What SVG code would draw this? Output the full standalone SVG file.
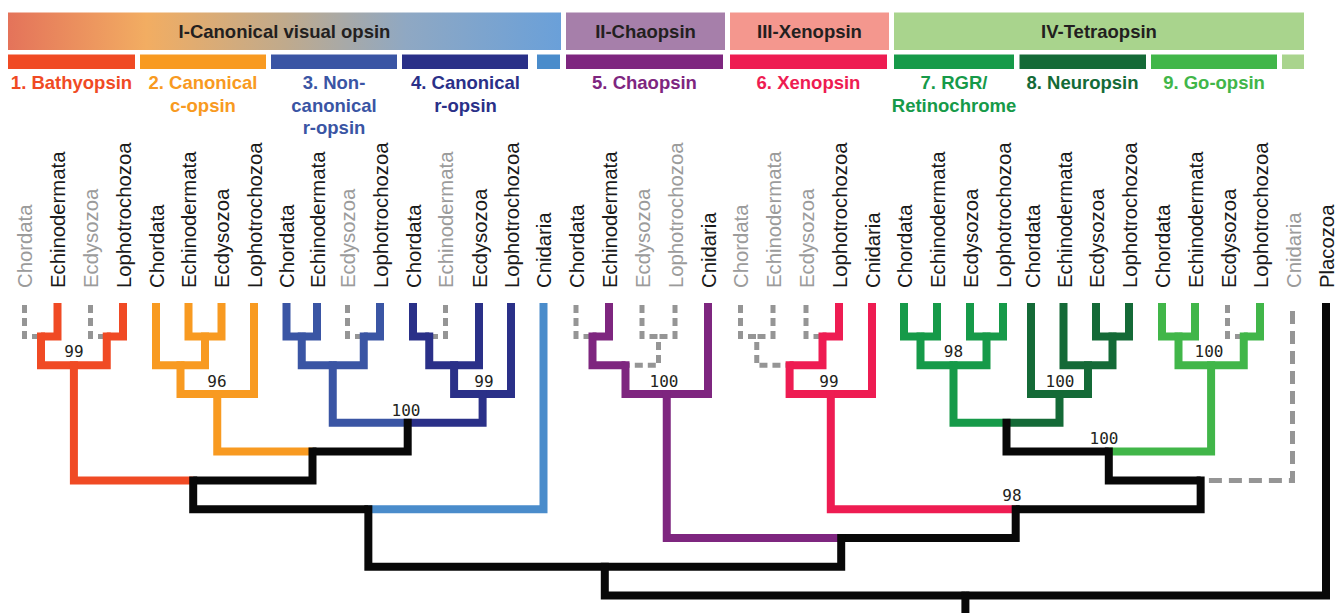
<svg xmlns="http://www.w3.org/2000/svg" width="1343" height="613" viewBox="0 0 1343 613">
<defs>
<linearGradient id="gradI" x1="8" y1="0" x2="561" y2="0" gradientUnits="userSpaceOnUse">
<stop offset="0" stop-color="#E4735A"/>
<stop offset="0.25" stop-color="#F2AD62"/>
<stop offset="0.5" stop-color="#C0AA8C"/>
<stop offset="0.72" stop-color="#8FA8C3"/>
<stop offset="1" stop-color="#6AA0D9"/>
</linearGradient>
</defs>
<style>
.hdr{font-family:"Liberation Sans",Arial,sans-serif;font-weight:bold;font-size:18.5px;fill:#231F20;text-anchor:middle}
.cl{font-family:"Liberation Sans",Arial,sans-serif;font-weight:bold;font-size:18.5px;text-anchor:middle}
.tip{font-family:"Liberation Sans",Arial,sans-serif;font-size:20.3px;fill:#1A1A1A}
.tip.g{fill:#9B9B9B}
.bs{font-family:"DejaVu Sans Mono",monospace;font-size:16px;fill:#231F20;text-anchor:middle}
.e{fill:none;stroke-width:8;stroke-linejoin:miter;stroke-linecap:butt}
.d{fill:none;stroke:#959595;stroke-width:5;stroke-dasharray:8 5;stroke-linecap:butt}
.dl{fill:none;stroke:#959595;stroke-width:5;stroke-dasharray:13 7;stroke-linecap:butt}
.k{stroke:#080808}
.red{stroke:#F04A24}
.org{stroke:#F89A21}
.blu{stroke:#3A55A4}
.nav{stroke:#2A3088}
.lbl{stroke:#4A8CCB}
.pur{stroke:#7E267F}
.pnk{stroke:#EE1C52}
.grn{stroke:#169A49}
.dgr{stroke:#146A37}
.lgr{stroke:#41B649}
</style>
<rect width="1343" height="613" fill="#FFFFFF"/>

<g id="cat-I"><rect x="8" y="12.5" width="553" height="37.5" fill="url(#gradI)"/><text class="hdr" x="284.5" y="37.5">I-Canonical visual opsin</text></g>
<g id="cat-II"><rect x="566" y="12.5" width="159" height="37.5" fill="#A67FAA"/><text class="hdr" x="645.5" y="37.5">II-Chaopsin</text></g>
<g id="cat-III"><rect x="730" y="12.5" width="159" height="37.5" fill="#F4978E"/><text class="hdr" x="809.5" y="37.5">III-Xenopsin</text></g>
<g id="cat-IV"><rect x="894" y="12.5" width="410" height="37.5" fill="#A9D48D"/><text class="hdr" x="1099" y="37.5">IV-Tetraopsin</text></g>

<g id="clade-1"><rect x="8" y="54.5" width="127" height="14.5" fill="#F04A24"/><text class="cl" x="71.5" y="89" fill="#F04A24">1. Bathyopsin</text></g>
<g id="clade-2"><rect x="140" y="54.5" width="126" height="14.5" fill="#F89A21"/><text class="cl" x="203" y="89" fill="#F89A21">2. Canonical</text><text class="cl" x="203" y="111.5" fill="#F89A21">c-opsin</text></g>
<g id="clade-3"><rect x="271" y="54.5" width="126" height="14.5" fill="#3A55A4"/><text class="cl" x="334" y="89" fill="#3A55A4">3. Non-</text><text class="cl" x="334" y="111.5" fill="#3A55A4">canonical</text><text class="cl" x="334" y="134" fill="#3A55A4">r-opsin</text></g>
<g id="clade-4"><rect x="402" y="54.5" width="126" height="14.5" fill="#2A3088"/><text class="cl" x="465.5" y="89" fill="#2A3088">4. Canonical</text><text class="cl" x="465.5" y="111.5" fill="#2A3088">r-opsin</text></g>
<g id="clade-cnid-I"><rect x="537" y="54.5" width="23" height="14.5" fill="#4A8CCB"/></g>
<g id="clade-5"><rect x="566" y="54.5" width="157" height="14.5" fill="#7E267F"/><text class="cl" x="644.5" y="89" fill="#7E267F">5. Chaopsin</text></g>
<g id="clade-6"><rect x="730" y="54.5" width="157" height="14.5" fill="#EE1C52"/><text class="cl" x="808.5" y="89" fill="#EE1C52">6. Xenopsin</text></g>
<g id="clade-7"><rect x="894" y="54.5" width="120" height="14.5" fill="#169A49"/><text class="cl" x="954" y="89" fill="#169A49">7. RGR/</text><text class="cl" x="954" y="111.5" fill="#169A49">Retinochrome</text></g>
<g id="clade-8"><rect x="1019.5" y="54.5" width="126.5" height="14.5" fill="#146A37"/><text class="cl" x="1082.5" y="89" fill="#146A37">8. Neuropsin</text></g>
<g id="clade-9"><rect x="1151" y="54.5" width="126" height="14.5" fill="#41B649"/><text class="cl" x="1214" y="89" fill="#41B649">9. Go-opsin</text></g>
<g id="clade-cnid-IV"><rect x="1282" y="54.5" width="22" height="14.5" fill="#A9D48D"/></g>

<g id="tips">
<g id="tip-0"><text class="tip g" transform="translate(32,288) rotate(-90)">Chordata</text></g>
<g id="tip-1"><text class="tip" transform="translate(65,288) rotate(-90)">Echinodermata</text></g>
<g id="tip-2"><text class="tip g" transform="translate(98,288) rotate(-90)">Ecdysozoa</text></g>
<g id="tip-3"><text class="tip" transform="translate(130.5,288) rotate(-90)">Lophotrochozoa</text></g>
<g id="tip-4"><text class="tip" transform="translate(163.5,288) rotate(-90)">Chordata</text></g>
<g id="tip-5"><text class="tip" transform="translate(196,288) rotate(-90)">Echinodermata</text></g>
<g id="tip-6"><text class="tip" transform="translate(229,288) rotate(-90)">Ecdysozoa</text></g>
<g id="tip-7"><text class="tip" transform="translate(261.5,288) rotate(-90)">Lophotrochozoa</text></g>
<g id="tip-8"><text class="tip" transform="translate(294,288) rotate(-90)">Chordata</text></g>
<g id="tip-9"><text class="tip" transform="translate(324.5,288) rotate(-90)">Echinodermata</text></g>
<g id="tip-10"><text class="tip g" transform="translate(355,288) rotate(-90)">Ecdysozoa</text></g>
<g id="tip-11"><text class="tip" transform="translate(387.5,288) rotate(-90)">Lophotrochozoa</text></g>
<g id="tip-12"><text class="tip" transform="translate(420.5,288) rotate(-90)">Chordata</text></g>
<g id="tip-13"><text class="tip g" transform="translate(453,288) rotate(-90)">Echinodermata</text></g>
<g id="tip-14"><text class="tip" transform="translate(486.5,288) rotate(-90)">Ecdysozoa</text></g>
<g id="tip-15"><text class="tip" transform="translate(518.5,288) rotate(-90)">Lophotrochozoa</text></g>
<g id="tip-16"><text class="tip" transform="translate(551,288) rotate(-90)">Cnidaria</text></g>
<g id="tip-17"><text class="tip" transform="translate(583.5,288) rotate(-90)">Chordata</text></g>
<g id="tip-18"><text class="tip" transform="translate(616.5,288) rotate(-90)">Echinodermata</text></g>
<g id="tip-19"><text class="tip g" transform="translate(649.5,288) rotate(-90)">Ecdysozoa</text></g>
<g id="tip-20"><text class="tip g" transform="translate(682.5,288) rotate(-90)">Lophotrochozoa</text></g>
<g id="tip-21"><text class="tip" transform="translate(715.5,288) rotate(-90)">Cnidaria</text></g>
<g id="tip-22"><text class="tip g" transform="translate(748,288) rotate(-90)">Chordata</text></g>
<g id="tip-23"><text class="tip g" transform="translate(780.5,288) rotate(-90)">Echinodermata</text></g>
<g id="tip-24"><text class="tip g" transform="translate(813.5,288) rotate(-90)">Ecdysozoa</text></g>
<g id="tip-25"><text class="tip" transform="translate(846.5,288) rotate(-90)">Lophotrochozoa</text></g>
<g id="tip-26"><text class="tip" transform="translate(879.5,288) rotate(-90)">Cnidaria</text></g>
<g id="tip-27"><text class="tip" transform="translate(911.5,288) rotate(-90)">Chordata</text></g>
<g id="tip-28"><text class="tip" transform="translate(944.5,288) rotate(-90)">Echinodermata</text></g>
<g id="tip-29"><text class="tip" transform="translate(977.5,288) rotate(-90)">Ecdysozoa</text></g>
<g id="tip-30"><text class="tip" transform="translate(1010.5,288) rotate(-90)">Lophotrochozoa</text></g>
<g id="tip-31"><text class="tip" transform="translate(1039.5,288) rotate(-90)">Chordata</text></g>
<g id="tip-32"><text class="tip" transform="translate(1071.5,288) rotate(-90)">Echinodermata</text></g>
<g id="tip-33"><text class="tip" transform="translate(1104,288) rotate(-90)">Ecdysozoa</text></g>
<g id="tip-34"><text class="tip" transform="translate(1136.5,288) rotate(-90)">Lophotrochozoa</text></g>
<g id="tip-35"><text class="tip" transform="translate(1170,288) rotate(-90)">Chordata</text></g>
<g id="tip-36"><text class="tip" transform="translate(1202.5,288) rotate(-90)">Echinodermata</text></g>
<g id="tip-37"><text class="tip" transform="translate(1235.5,288) rotate(-90)">Ecdysozoa</text></g>
<g id="tip-38"><text class="tip" transform="translate(1267.5,288) rotate(-90)">Lophotrochozoa</text></g>
<g id="tip-39"><text class="tip g" transform="translate(1300.5,288) rotate(-90)">Cnidaria</text></g>
<g id="tip-40"><text class="tip" transform="translate(1333.5,288) rotate(-90)">Placozoa</text></g>
</g>

<g id="connectors">
<path class="d" d="M24.5 305V336.5H41"/>
<path class="e red" d="M57.5 303V336.5H41"/>
<path class="d" d="M90.5 305V336.5H106.75"/>
<path class="e red" d="M123 303V336.5H106.75"/>
<path class="e red" d="M41 332.5V365.3H73.9"/>
<path class="e red" d="M106.75 332.5V365.3H73.9"/>
<path class="e red" d="M73.9 361.3V480.4H193.2"/>

<path class="e org" d="M188.5 303V336.5H205"/>
<path class="e org" d="M221.5 303V336.5H205"/>
<path class="e org" d="M156 303V365.3H180.5"/>
<path class="e org" d="M205 332.5V365.3H180.5"/>
<path class="e org" d="M180.5 361.3V394H217.25"/>
<path class="e org" d="M254 303V394H217.25"/>
<path class="e org" d="M217.25 390V451.6H312.5"/>

<path class="e blu" d="M286.5 303V336.5H301.75"/>
<path class="e blu" d="M317 303V336.5H301.75"/>
<path class="d" d="M347.5 305V336.5H363.75"/>
<path class="e blu" d="M380 303V336.5H363.75"/>
<path class="e blu" d="M301.75 332.5V365.3H332.75"/>
<path class="e blu" d="M363.75 332.5V365.3H332.75"/>
<path class="e blu" d="M332.75 361.3V422.8H407.7"/>

<path class="e nav" d="M413 303V336.5H429.25"/>
<path class="d" d="M445.5 305V336.5H429.25"/>
<path class="e nav" d="M429.25 332.5V365.3H454.1"/>
<path class="e nav" d="M479 303V365.3H454.1"/>
<path class="e nav" d="M454.1 361.3V394H482.6"/>
<path class="e nav" d="M511 303V394H482.6"/>
<path class="e nav" d="M482.6 390V422.8H407.7"/>

<path class="e k" d="M407.7 418.8V451.6H312.5"/>
<path class="e k" d="M312.5 447.6V480.4H193.2"/>
<path class="e k" d="M193.2 476.4V509.2H368.35"/>
<path class="e lbl" d="M543.5 303V509.2H368.35"/>
<path class="e k" d="M368.35 505.2V566.8H604.8"/>

<path class="d" d="M576 305V336.5H592.5"/>
<path class="e pur" d="M609 303V336.5H592.5"/>
<path class="d" d="M642 305V336.5H658.5"/>
<path class="d" d="M675 305V336.5H658.5"/>
<path class="d" d="M658.5 342V365.3H625.5"/>
<path class="e pur" d="M592.5 332.5V365.3H625.5"/>
<path class="e pur" d="M625.5 361.3V394H666.75"/>
<path class="e pur" d="M708 303V394H666.75"/>
<path class="e pur" d="M666.75 390V538H841.2"/>

<path class="d" d="M740.5 305V336.5H756.75"/>
<path class="d" d="M773 305V336.5H756.75"/>
<path class="d" d="M806 305V336.5H822.5"/>
<path class="e pnk" d="M839 303V336.5H822.5"/>
<path class="d" d="M756.75 342V365.3H789.6"/>
<path class="e pnk" d="M822.5 332.5V365.3H789.6"/>
<path class="e pnk" d="M789.6 361.3V394H830.8"/>
<path class="e pnk" d="M872 303V394H830.8"/>
<path class="e pnk" d="M830.8 390V509.2H1015.7"/>

<path class="e grn" d="M904 303V336.5H920.5"/>
<path class="e grn" d="M937 303V336.5H920.5"/>
<path class="e grn" d="M970 303V336.5H986.5"/>
<path class="e grn" d="M1003 303V336.5H986.5"/>
<path class="e grn" d="M920.5 332.5V365.3H953.5"/>
<path class="e grn" d="M986.5 332.5V365.3H953.5"/>
<path class="e grn" d="M953.5 361.3V422.8H1006.5"/>

<path class="e dgr" d="M1096 303V336.5H1112.5"/>
<path class="e dgr" d="M1129 303V336.5H1112.5"/>
<path class="e dgr" d="M1063.5 303V365.3H1088"/>
<path class="e dgr" d="M1112.5 332.5V365.3H1088"/>
<path class="e dgr" d="M1031 303V394H1059.5"/>
<path class="e dgr" d="M1088 361.3V394H1059.5"/>
<path class="e dgr" d="M1059.5 390V422.8H1006.5"/>
<path class="e k" d="M1006.5 418.8V451.6H1108.8"/>

<path class="e lgr" d="M1162 303V336.5H1178.5"/>
<path class="e lgr" d="M1195 303V336.5H1178.5"/>
<path class="d" d="M1227.5 305V336.5H1243.75"/>
<path class="e lgr" d="M1260 303V336.5H1243.75"/>
<path class="e lgr" d="M1178.5 332.5V365.3H1211.1"/>
<path class="e lgr" d="M1243.75 332.5V365.3H1211.1"/>
<path class="e lgr" d="M1211.1 361.3V451.6H1108.8"/>

<path class="e k" d="M1108.8 447.6V480.4H1200.65"/>
<path class="dl" d="M1292.5 311V480.4H1200.65"/>
<path class="e k" d="M1200.65 476.4V509.2H1015.7"/>
<path class="e k" d="M1015.7 505.2V538H841.2"/>
<path class="e k" d="M841.2 534V566.8H604.8"/>
<path class="e k" d="M604.8 562.8V595.6H965.4"/>
<path class="e k" d="M1326 303V595.6H965.4"/>
<path class="e k" d="M965.4 591.6V613"/>
</g>

<g id="support">
<text class="bs" x="73.9" y="357.3">99</text>
<text class="bs" x="217" y="386.5">96</text>
<text class="bs" x="406" y="415.5">100</text>
<text class="bs" x="484" y="386.5">99</text>
<text class="bs" x="664" y="386.5">100</text>
<text class="bs" x="829" y="386.5">99</text>
<text class="bs" x="953.5" y="357.3">98</text>
<text class="bs" x="1060" y="386.5">100</text>
<text class="bs" x="1209" y="357.3">100</text>
<text class="bs" x="1104" y="443.5">100</text>
<text class="bs" x="1012" y="501">98</text>
</g>
</svg>
